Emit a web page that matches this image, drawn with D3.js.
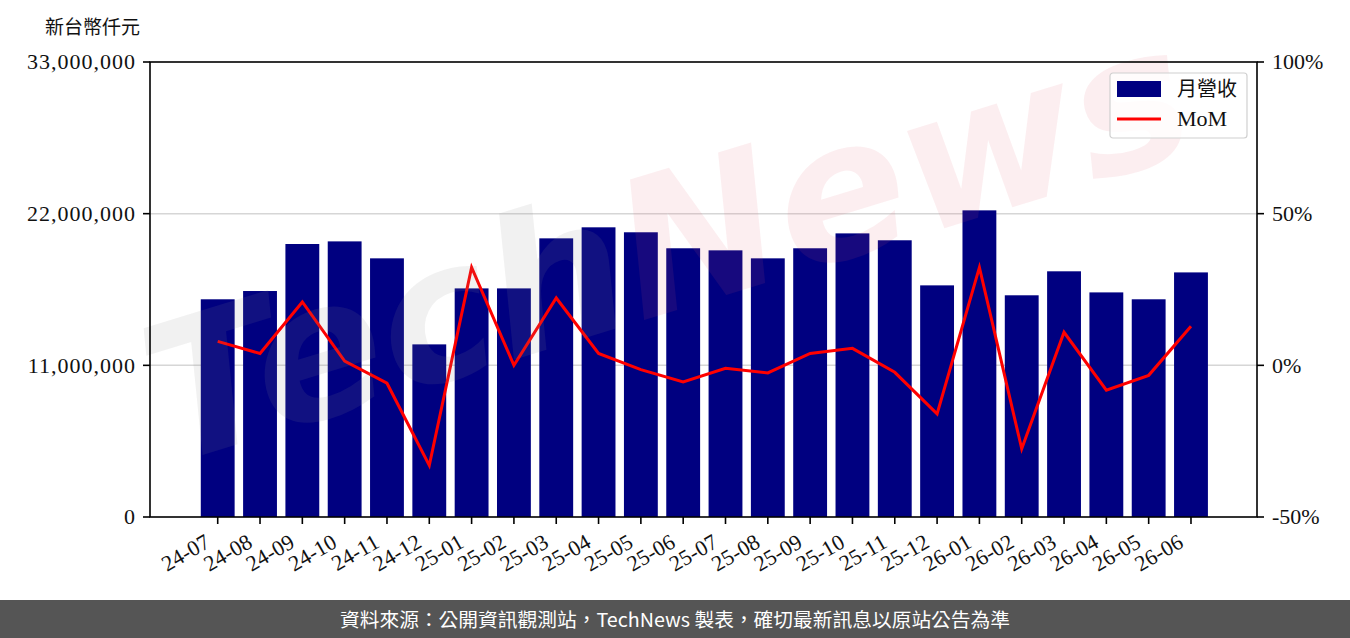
<!DOCTYPE html>
<html>
<head>
<meta charset="utf-8">
<script src="https://cdn.jsdelivr.net/npm/d3@7"></script>
<style>
  html, body { margin: 0; padding: 0; background: #fff; }
  svg { display: block; }
</style>
</head>
<body>
<svg id="chart" width="1350" height="638"></svg>
<script>
// data
const months = ["24-07","24-08","24-09","24-10","24-11","24-12","25-01","25-02","25-03","25-04","25-05","25-06",
                "25-07","25-08","25-09","25-10","25-11","25-12","26-01","26-02","26-03","26-04","26-05","26-06"];
const revenue = [15790000,16390000,19800000,19990000,18760000,12520000,16580000,16580000,20210000,21010000,20650000,19490000,
                 19340000,18760000,19490000,20570000,20070000,16800000,22240000,16080000,17820000,16290000,15790000,17740000];
const mom = [7.9,3.9,20.9,1.4,-5.9,-33.0,32.3,0.0,22.2,3.9,-1.4,-5.5,
             -1.0,-2.5,3.9,5.6,-2.3,-16.0,32.3,-27.5,10.9,-8.2,-3.3,12.9];
const leftTicks = [0, 11000000, 22000000, 33000000];
const rightTicks = [-50, 0, 50, 100];

const W = 1350, H = 638;
const m = {left: 150, right: 1257, top: 62, bottom: 517};
const serif = "'Liberation Serif', 'DejaVu Serif', serif";
const cjk = "'Noto Sans CJK TC', 'Noto Sans CJK SC', sans-serif";

const svg = d3.select("#chart");

const x = d3.scaleLinear().domain([-1.6, months.length - 1 + 1.56]).range([m.left, m.right]);
const step = x(1) - x(0);
const barW = step * 0.8;
const y = d3.scaleLinear().domain([0, 33000000]).range([m.bottom, m.top]);
const y2 = d3.scaleLinear().domain([-50, 100]).range([m.bottom, m.top]);

// grid
svg.append("g").selectAll("line")
  .data(leftTicks.slice(1, -1))
  .join("line")
  .attr("x1", m.left).attr("x2", m.right)
  .attr("y1", d => y(d)).attr("y2", d => y(d))
  .attr("stroke", "#d6d6d6").attr("stroke-width", 1.5);

// bars
svg.append("g").selectAll("rect")
  .data(revenue)
  .join("rect")
  .attr("x", (d, i) => x(i) - barW / 2)
  .attr("width", barW)
  .attr("y", d => y(d))
  .attr("height", d => y(0) - y(d))
  .attr("fill", "#000080");

// MoM line
const line = d3.line().x((d, i) => x(i)).y(d => y2(d));
svg.append("path")
  .datum(mom)
  .attr("d", line)
  .attr("fill", "none")
  .attr("stroke", "#ff0000")
  .attr("stroke-width", 3)
  .attr("stroke-linejoin", "miter");

// watermark
const wm = svg.append("text")
  .attr("transform", "translate(170,465) rotate(-17)")
  .attr("font-family", "'DejaVu Sans', sans-serif")
  .attr("font-style", "italic")
  .attr("font-weight", "bold")
  .attr("font-size", 190)
  .attr("textLength", 1080)
  .attr("lengthAdjust", "spacingAndGlyphs");
wm.append("tspan").text("Tech").attr("fill", "#888").attr("fill-opacity", 0.12);
wm.append("tspan").text("News").attr("fill", "#e0556a").attr("fill-opacity", 0.1);

// spines
svg.append("rect")
  .attr("x", m.left).attr("y", m.top)
  .attr("width", m.right - m.left).attr("height", m.bottom - m.top)
  .attr("fill", "none").attr("stroke", "#000").attr("stroke-width", 1.6);

// left axis
const gl = svg.append("g");
gl.selectAll("line").data(leftTicks).join("line")
  .attr("x1", m.left - 7).attr("x2", m.left)
  .attr("y1", d => y(d)).attr("y2", d => y(d))
  .attr("stroke", "#000").attr("stroke-width", 1.6);
gl.selectAll("text").data(leftTicks).join("text")
  .attr("x", m.left - 14).attr("y", d => y(d))
  .attr("dy", "0.33em")
  .attr("text-anchor", "end")
  .attr("font-family", serif).attr("font-size", 22)
  .attr("letter-spacing", 1)
  .attr("fill", "#111")
  .text(d => d3.format(",")(d));

// right axis
const gr = svg.append("g");
gr.selectAll("line").data(rightTicks).join("line")
  .attr("x1", m.right).attr("x2", m.right + 7)
  .attr("y1", d => y2(d)).attr("y2", d => y2(d))
  .attr("stroke", "#000").attr("stroke-width", 1.6);
gr.selectAll("text").data(rightTicks).join("text")
  .attr("x", m.right + 15).attr("y", d => y2(d))
  .attr("dy", "0.33em")
  .attr("font-family", serif).attr("font-size", 22)
  .attr("fill", "#111")
  .text(d => d + "%");

// bottom axis
const gb = svg.append("g");
gb.selectAll("line").data(months).join("line")
  .attr("x1", (d, i) => x(i)).attr("x2", (d, i) => x(i))
  .attr("y1", m.bottom).attr("y2", m.bottom + 7)
  .attr("stroke", "#000").attr("stroke-width", 1.6);
gb.selectAll("text").data(months).join("text")
  .attr("transform", (d, i) => `translate(${x(i) - 14},${m.bottom + 16}) rotate(-30)`)
  .attr("text-anchor", "end")
  .attr("dy", "0.7em")
  .attr("font-family", serif).attr("font-size", 22)
  .attr("fill", "#111")
  .text(d => d);

// axis title
svg.append("text")
  .attr("x", 45).attr("y", 34)
  .attr("font-family", cjk).attr("font-size", 19)
  .attr("fill", "#111")
  .text("新台幣仟元");

// legend
const lg = svg.append("g").attr("transform", "translate(1110,73)");
lg.append("rect").attr("width", 137).attr("height", 65).attr("rx", 3)
  .attr("fill", "#fff").attr("fill-opacity", 0.8)
  .attr("stroke", "#d0d0d0").attr("stroke-width", 1.2);
lg.append("rect").attr("x", 7).attr("y", 8).attr("width", 44).attr("height", 16).attr("fill", "#000080");
lg.append("line").attr("x1", 7).attr("x2", 51).attr("y1", 46).attr("y2", 46)
  .attr("stroke", "#ff0000").attr("stroke-width", 3);
lg.append("text").attr("x", 67).attr("y", 16).attr("dy", "0.36em")
  .attr("font-family", cjk).attr("font-size", 20).attr("fill", "#111").text("月營收");
lg.append("text").attr("x", 67).attr("y", 46).attr("dy", "0.34em")
  .attr("font-family", serif).attr("font-size", 22).attr("fill", "#111").text("MoM");

// footer
svg.append("rect").attr("x", 0).attr("y", 600).attr("width", W).attr("height", 38).attr("fill", "#555555");
svg.append("text")
  .attr("x", W / 2).attr("y", 620).attr("dy", "0.35em")
  .attr("text-anchor", "middle")
  .attr("font-family", cjk).attr("font-size", 19)
  .attr("fill", "#fff")
  .attr("textLength", 670).attr("lengthAdjust", "spacingAndGlyphs")
  .text("資料來源：公開資訊觀測站，TechNews 製表，確切最新訊息以原站公告為準");
</script>
</body>
</html>
